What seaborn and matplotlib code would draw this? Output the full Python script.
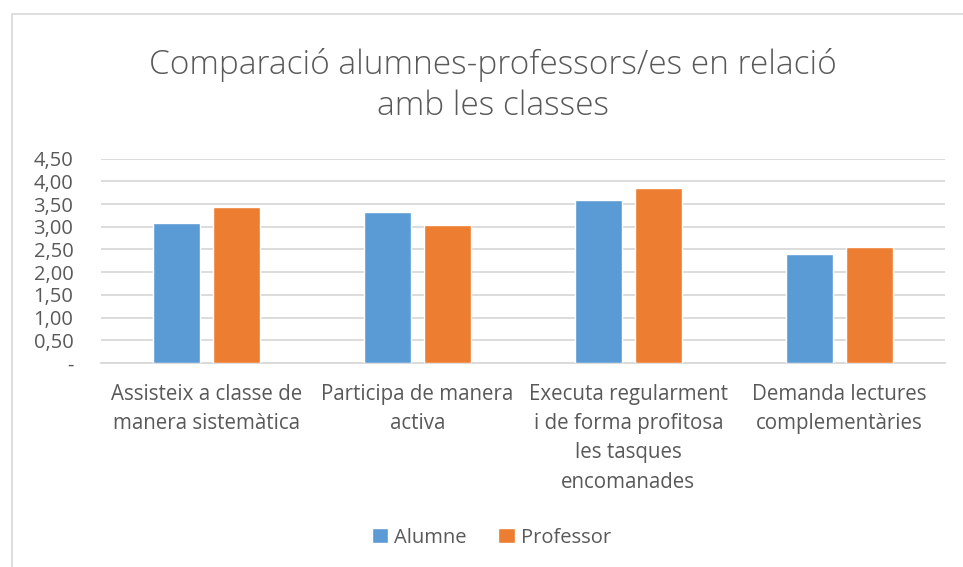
import numpy as np
import pandas as pd
import seaborn as sns
import matplotlib.pyplot as plt
from matplotlib.patches import Rectangle

categories = [
    "Assisteix a classe de\nmanera sistemàtica",
    "Participa de manera\nactiva",
    "Executa regularment\ni de forma profitosa\nles tasques\nencomanades",
    "Demanda lectures\ncomplementàries",
]
alumne = [3.08, 3.33, 3.58, 2.41]
professor = [3.43, 3.03, 3.86, 2.56]
yticks = [0, 0.5, 1.0, 1.5, 2.0, 2.5, 3.0, 3.5, 4.0, 4.5]

text_color = "#595959"
colors = {"Alumne": "#5B9BD5", "Professor": "#ED7D31"}

df = pd.DataFrame({
    "categoria": categories * 2,
    "valor": alumne + professor,
    "grup": ["Alumne"] * len(categories) + ["Professor"] * len(categories),
})

sns.set_theme(style="white")
plt.rcParams['font.family'] = ['Open Sans', 'DejaVu Sans']

fig = plt.figure(figsize=(9.63, 5.67), dpi=100)
ax = fig.add_axes([0.105, 0.360, 0.876, 0.360])

sns.barplot(data=df, x="categoria", y="valor", hue="grup", palette=colors,
            width=0.57, gap=0.22, saturation=1, ax=ax, zorder=3)

ax.set_ylim(0, 4.5)
ax.set_yticks(yticks)
ax.set_yticklabels(["-"] + [f"{v:.2f}".replace(".", ",") for v in yticks[1:]],
                   fontsize=14.5, color=text_color)
ax.tick_params(axis="x", labelsize=14.8, colors=text_color, pad=15, length=0)
ax.tick_params(axis="y", length=0, pad=20)
for lbl in ax.get_xticklabels():
    lbl.set_linespacing(1.52)
ax.yaxis.grid(True, color="#D9D9D9", linewidth=1.3, zorder=0)
ax.set_xlabel("")
ax.set_ylabel("")
for s in ["top", "right", "left"]:
    ax.spines[s].set_visible(False)
ax.spines["bottom"].set_color("#D9D9D9")
ax.spines["bottom"].set_linewidth(1.3)

fig.suptitle("Comparació alumnes-professors/es en relació\namb les classes",
             x=0.512, y=0.915, fontsize=24, color=text_color, fontweight="light",
             linespacing=1.3)

handles, labels = ax.get_legend_handles_labels()
ax.legend(handles, labels, loc="center", bbox_to_anchor=(0.51, 0.052),
          bbox_transform=fig.transFigure, ncol=2, frameon=False,
          fontsize=14.5, labelcolor=text_color, handlelength=0.8, handleheight=0.8,
          handletextpad=0.3, columnspacing=1.6)

fig.patches.append(Rectangle((12 / 963, -0.01), 1.0, 1 - 14 / 567 + 0.01,
                             transform=fig.transFigure, fill=False,
                             edgecolor="#D9D9D9", linewidth=1.2))

fig.savefig("out.png", dpi=100)
